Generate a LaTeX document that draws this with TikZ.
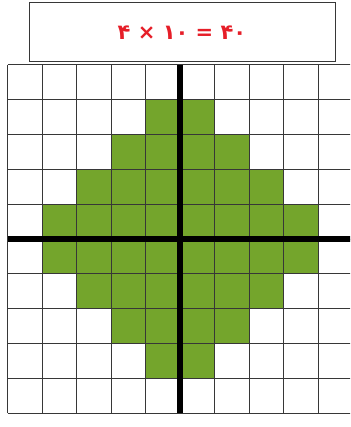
\documentclass[tikz,border=0pt]{standalone}
\usepackage{fontspec}
\newfontfamily\arabicfont{DejaVu Sans}
\definecolor{leaf}{RGB}{116,165,44}
\definecolor{eqred}{RGB}{230,30,40}
\definecolor{gridc}{RGB}{55,55,55}
\begin{document}
\begin{tikzpicture}[x=1pt,y=-1pt,
  cell/.style={fill=leaf},
  gridline/.style={draw=gridc,line width=1pt},
  axisline/.style={draw=black,line width=6pt},
  eqbox/.style={draw=gridc,line width=1pt,minimum width=306pt,minimum height=59pt,inner sep=0pt,text=eqred,font=\arabicfont\bfseries\fontsize{21}{24}\selectfont}]
\useasboundingbox (0,0) rectangle (350,427);
\fill[white] (0,0) rectangle (350,427);
\begin{scope}
\clip (0,0) rectangle (350,427);
\foreach \r/\a/\b in {1/4/5,2/3/6,3/2/7,4/1/8,5/1/8,6/2/7,7/3/6,8/4/5} {
  \fill[cell] ({7.5+34.5*\a},{65+34.8*\r}) rectangle ({7.5+34.5*(\b+1)},{65+34.8*(\r+1)});
}
\foreach \i in {0,...,10} \draw[gridline] ({7.5+34.5*\i},65) -- ({7.5+34.5*\i},413);
\foreach \j in {0,...,10} \draw[gridline] (7.5,{65+34.8*\j}) -- (352.5,{65+34.8*\j});
\coordinate (vtop) at (180,65);
\coordinate (vbot) at (180,413);
\coordinate (hleft) at (7.5,239);
\coordinate (hright) at (352.5,239);
\draw[axisline] (vtop) -- (vbot);
\draw[axisline] (hleft) -- (hright);
\end{scope}
\node[eqbox] (eq) at (182,32.5) {۴ × ۱۰ = ۴۰};
\end{tikzpicture}
\end{document}
